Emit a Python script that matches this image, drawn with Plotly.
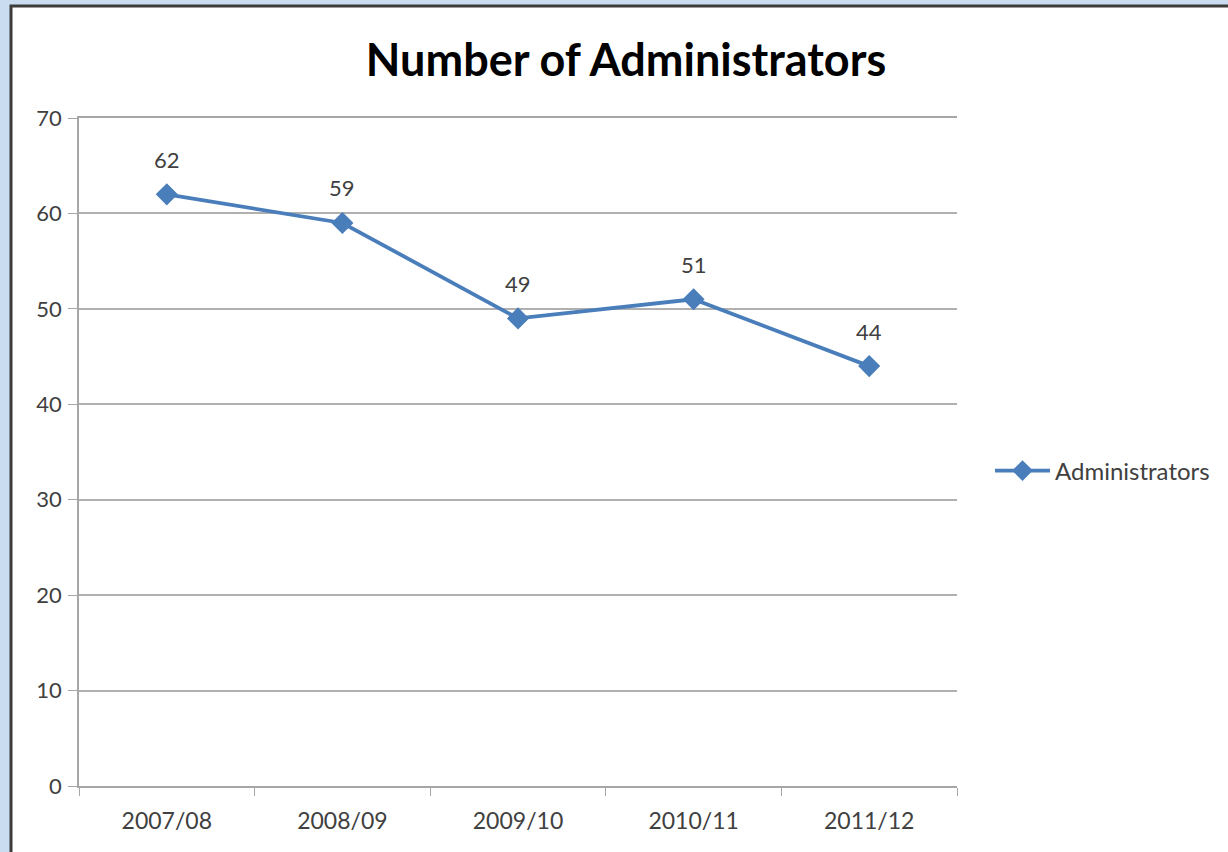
import plotly.graph_objects as go

categories = ["2007/08", "2008/09", "2009/10", "2010/11", "2011/12"]
administrators = [62, 59, 49, 51, 44]
y_ticks = [0, 10, 20, 30, 40, 50, 60, 70]

W, H = 1228, 852
L, R, T, B = 79, W - 957, 118, H - 786
pw, ph = W - L - R, H - T - B

def px_x(p):
    return (p - L) / pw

def px_y(p):
    return (H - B - p) / ph

blue = "#4a7ebb"
outer = "#c9dcf0"
font = "Lato, 'Open Sans', sans-serif"

fig = go.Figure()
fig.add_trace(go.Scatter(
    x=categories, y=administrators, name="Administrators",
    mode="lines+markers",
    line=dict(color=blue, width=3.8),
    marker=dict(symbol="diamond", size=17, color=blue),
))

for c, v in zip(categories, administrators):
    fig.add_annotation(x=c, y=v, text=str(v), showarrow=False, yshift=35,
                       font=dict(size=22, color="#404040", family=font))

fig.add_shape(type="rect", xref="paper", yref="paper", layer="below",
              x0=px_x(11), x1=px_x(1260), y0=px_y(900), y1=px_y(6),
              fillcolor="white", line=dict(color="#3c3c3c", width=3))

fig.update_layout(
    width=W, height=H,
    margin=dict(l=L, r=R, t=T, b=B),
    paper_bgcolor=outer,
    plot_bgcolor="rgba(0,0,0,0)",
    title=dict(text="<b>Number of Administrators</b>", x=626 / W, xanchor="center",
               y=1 - 60 / H, yanchor="middle",
               font=dict(size=45, color="black", family=font)),
    showlegend=True,
    legend=dict(x=px_x(990), xanchor="left", y=px_y(471), yanchor="middle",
                itemwidth=55, bgcolor="rgba(0,0,0,0)",
                font=dict(size=24, color="#404040", family=font)),
    font=dict(family=font, color="#404040"),
)

fig.update_xaxes(
    type="category", range=[-0.5, 4.5],
    showline=True, mirror=True, linecolor="#a6a6a6", linewidth=1.5,
    tickson="boundaries", ticks="outside", ticklen=8, tickcolor="#a6a6a6",
    ticklabelstandoff=14,
    showgrid=False, tickfont=dict(size=23, color="#404040"),
)
fig.update_yaxes(
    range=[0, 70], tickvals=y_ticks,
    showline=True, linecolor="#a6a6a6", linewidth=1.5,
    ticks="outside", ticklen=9, tickcolor="#a6a6a6",
    ticklabelstandoff=2,
    showgrid=True, gridcolor="#b0b0b0", gridwidth=1.5,
    zeroline=False, tickfont=dict(size=22, color="#404040"),
)

fig.write_html(
    "out.html",
    config={"displayModeBar": False},
    post_script="document.body.style.margin='0';document.body.style.background='%s';" % outer,
)
